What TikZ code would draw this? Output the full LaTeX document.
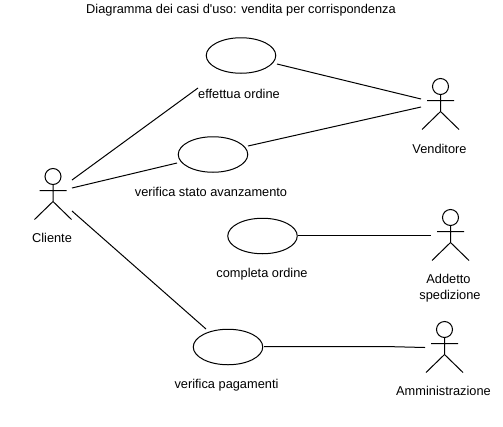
\documentclass[tikz,border=0pt]{standalone}
\usepackage{fontspec}
\newfontfamily\lblfont{Liberation Sans}
\usetikzlibrary{shapes.geometric}
\tikzset{
  x=1pt,y=-1pt,
  every path/.style={line width=1pt,black},
  usecase/.style={ellipse,draw,minimum width=69.5pt,minimum height=35.5pt,inner sep=0pt},
  lbl/.style={font=\lblfont\fontsize{12.8}{14}\selectfont,inner sep=0pt,text=black},
  head/.style={circle,draw,minimum size=16pt,inner sep=0pt},
}
% name, head centre x, head centre y
\newcommand{\umactor}[3]{%
  \node[head] (#1) at (#2,#3) {};
  \coordinate (#1-arml) at (#2-13.5,#3+14);
  \coordinate (#1-armr) at (#2+13.5,#3+14);
  \coordinate (#1-hip) at (#2,#3+25);
  \coordinate (#1-legl) at (#2-18.5,#3+43);
  \coordinate (#1-legr) at (#2+18.5,#3+43);
  \draw (#1.south) -- (#1-hip) (#1-arml) -- (#1-armr)
        (#1-legl) -- (#1-hip) -- (#1-legr);
}
\begin{document}
\begin{tikzpicture}
\useasboundingbox (0,0) rectangle (503,426);
\node[lbl] (title) at (241,10) {Diagramma dei casi d'uso: vendita per corrispondenza};

\umactor{cliente}{53}{176.5}
\umactor{venditore}{440.5}{86.5}
\umactor{addetto}{450.5}{217.5}
\umactor{ammin}{444.5}{329.5}

\node[lbl] (lcliente) at (52,238) {Cliente};
\node[lbl] (lvenditore) at (439.5,149) {Venditore};
\node[lbl] (laddetto) at (448.5,279) {Addetto};
\node[lbl] (lsped) at (450,296) {spedizione};
\node[lbl] (lammin) at (443.5,391) {Amministrazione};

\node[usecase] (uc1) at (241,55.5) {};
\node[usecase] (uc2) at (213,154.5) {};
\node[usecase] (uc3) at (262.5,236) {};
\node[usecase] (uc4) at (228,347) {};

\node[lbl] (l1) at (239,94) {effettua ordine};
\node[lbl] (l2) at (211,192) {verifica stato avanzamento};
\node[lbl] (l3) at (262,274) {completa ordine};
\node[lbl] (l4) at (226.5,385) {verifica pagamenti};

% free ends of the connectors, just clear of the actors
\coordinate (c1) at (72,180);
\coordinate (c2) at (72,188);
\coordinate (c3) at (72,211);
\coordinate (v1) at (421,99);
\coordinate (v2) at (421,107);
\coordinate (a1) at (431,235.5);
\coordinate (m1) at (425,347.5);
\coordinate (k1) at (385,346.5);
\coordinate (e1) at (198,88);
\coordinate (e2) at (177,163);
\coordinate (e3) at (206,329);
\coordinate (e4) at (277,64);
\coordinate (e5) at (248,146);
\coordinate (e6) at (298,235.5);
\coordinate (e7) at (264,346.5);

\draw (c1) -- (e1);
\draw (c2) -- (e2);
\draw (c3) -- (e3);
\draw (e4) -- (v1);
\draw (e5) -- (v2);
\draw (e6) -- (a1);
\draw (e7) -- (k1) -- (m1);
\end{tikzpicture}
\end{document}
